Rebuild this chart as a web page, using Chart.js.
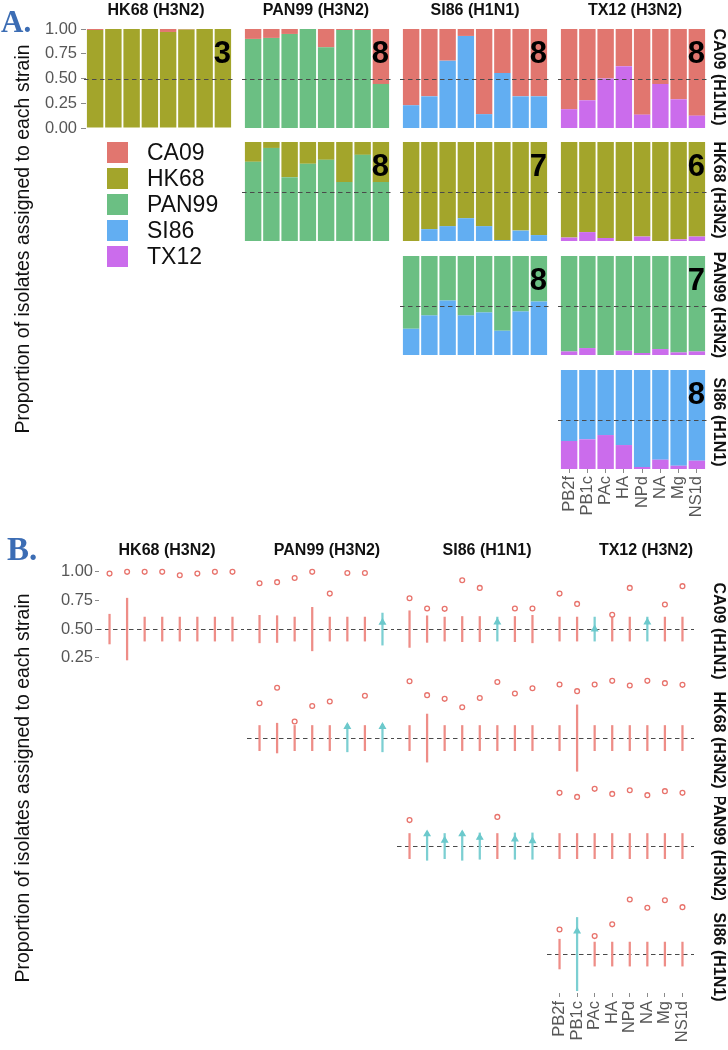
<!DOCTYPE html>
<html>
<head>
<meta charset="utf-8">
<script src="https://cdn.jsdelivr.net/npm/chart.js@4.4.1/dist/chart.umd.min.js"></script>
<style>
html,body{margin:0;padding:0;background:#fff;}
#root{position:relative;width:728px;height:1050px;overflow:hidden;background:#fff;font-family:"Liberation Sans",Arial,Helvetica,sans-serif;}
#root canvas{position:absolute;}
.txt{position:absolute;white-space:nowrap;line-height:1;}
.box{position:absolute;overflow:hidden;}
.rot{position:absolute;left:50%;top:50%;white-space:nowrap;line-height:1;}
</style>
</head>
<body>
<div id="root"></div>
<script>
// ================= DATA =================
const segments = ["PB2f","PB1c","PAc","HA","NPd","NA","Mg","NS1d"];
const legendStrains = ["CA09","HK68","PAN99","SI86","TX12"];
const columnStrains = ["HK68","PAN99","SI86","TX12"];
const columnLabels = ["HK68 (H3N2)","PAN99 (H3N2)","SI86 (H1N1)","TX12 (H3N2)"];
const rowStrains = ["CA09","HK68","PAN99","SI86"];
const rowLabels = ["CA09 (H1N1)","HK68 (H3N2)","PAN99 (H3N2)","SI86 (H1N1)"];
const yTicksA = [0, 0.25, 0.5, 0.75, 1];
const yTicksB = [0.25, 0.5, 0.75, 1];
const nullCentre = 0.5;
const axisTitle = "Proportion of isolates assigned to each strain";

// Panel A: share of isolates assigned to the column strain (lower) and to the row strain (upper)
const A_CA09_HK68_low  = [0.99,1.00,1.00,1.00,0.97,0.995,1.00,1.00];
const A_CA09_HK68_up   = [0.01,0.00,0.00,0.00,0.03,0.005,0.00,0.00];
const A_CA09_PAN99_low = [0.90,0.91,0.95,1.00,0.815,0.99,0.99,0.445];
const A_CA09_PAN99_up  = [0.10,0.09,0.05,0.00,0.185,0.01,0.01,0.555];
const A_CA09_SI86_low  = [0.23,0.32,0.68,0.93,0.14,0.555,0.32,0.32];
const A_CA09_SI86_up   = [0.77,0.68,0.32,0.07,0.86,0.445,0.68,0.68];
const A_CA09_TX12_low  = [0.19,0.28,0.50,0.625,0.135,0.445,0.29,0.125];
const A_CA09_TX12_up   = [0.81,0.72,0.50,0.375,0.865,0.555,0.71,0.875];
const A_HK68_PAN99_low = [0.80,0.94,0.645,0.78,0.82,0.595,0.87,0.595];
const A_HK68_PAN99_up  = [0.20,0.06,0.355,0.22,0.18,0.405,0.13,0.405];
const A_HK68_SI86_low  = [0.00,0.12,0.15,0.23,0.15,0.01,0.105,0.06];
const A_HK68_SI86_up   = [1.00,0.88,0.85,0.77,0.85,0.99,0.895,0.94];
const A_HK68_TX12_low  = [0.035,0.09,0.03,0.00,0.045,0.00,0.017,0.045];
const A_HK68_TX12_up   = [0.965,0.91,0.97,1.00,0.955,1.00,0.983,0.955];
const A_PAN99_SI86_low = [0.265,0.40,0.55,0.40,0.43,0.245,0.44,0.54];
const A_PAN99_SI86_up  = [0.735,0.60,0.45,0.60,0.57,0.755,0.56,0.46];
const A_PAN99_TX12_low = [0.036,0.07,0.00,0.043,0.02,0.06,0.026,0.036];
const A_PAN99_TX12_up  = [0.964,0.93,1.00,0.957,0.98,0.94,0.974,0.964];
const A_SI86_TX12_low  = [0.283,0.30,0.343,0.242,0.02,0.094,0.033,0.084];
const A_SI86_TX12_up   = [0.717,0.70,0.657,0.758,0.98,0.906,0.967,0.916];
const countsA = [[3,8,8,8],[null,8,7,6],[null,null,8,7],[null,null,null,8]];

// Panel B: observed proportion (point) and half-width of the null interval around 0.5 (bar)
const B_CA09_HK68_obs   = [0.985,1.00,1.00,1.00,0.97,0.985,1.00,1.00];
const B_CA09_HK68_half  = [0.13,0.27,0.105,0.105,0.105,0.105,0.105,0.105];
const B_CA09_PAN99_obs  = [0.90,0.91,0.947,1.00,0.81,0.99,0.99,0.558];
const B_CA09_PAN99_half = [0.12,0.117,0.105,0.19,0.105,0.105,0.105,0.14];
const B_CA09_SI86_obs   = [0.77,0.68,0.677,0.927,0.86,0.56,0.68,0.68];
const B_CA09_SI86_half  = [0.16,0.116,0.105,0.11,0.11,0.105,0.11,0.12];
const B_CA09_TX12_obs   = [0.81,0.72,0.50,0.625,0.86,0.56,0.715,0.875];
const B_CA09_TX12_half  = [0.105,0.105,0.105,0.105,0.105,0.105,0.105,0.105];
const B_HK68_PAN99_obs  = [0.805,0.94,0.645,0.78,0.82,0.60,0.87,0.60];
const B_HK68_PAN99_half = [0.11,0.13,0.11,0.11,0.11,0.12,0.11,0.12];
const B_HK68_SI86_obs   = [0.997,0.875,0.843,0.77,0.85,0.99,0.89,0.935];
const B_HK68_SI86_half  = [0.11,0.21,0.11,0.11,0.11,0.11,0.11,0.11];
const B_HK68_TX12_obs   = [0.968,0.91,0.968,1.00,0.96,1.00,0.98,0.965];
const B_HK68_TX12_half  = [0.11,0.29,0.11,0.11,0.11,0.11,0.11,0.11];
const B_PAN99_SI86_obs  = [0.727,0.605,0.55,0.605,0.575,0.755,0.56,0.545];
const B_PAN99_SI86_half = [0.11,0.124,0.11,0.124,0.115,0.11,0.115,0.115];
const B_PAN99_TX12_obs  = [0.965,0.93,1.00,0.956,0.988,0.945,0.98,0.965];
const B_PAN99_TX12_half = [0.11,0.11,0.11,0.11,0.11,0.11,0.11,0.11];
const B_SI86_TX12_obs   = [0.715,0.70,0.657,0.76,0.977,0.905,0.97,0.91];
const B_SI86_TX12_half  = [0.13,0.32,0.105,0.105,0.105,0.105,0.105,0.105];

// ================= STYLE / LAYOUT =================
const FAMILY = '"Liberation Sans", Arial, Helvetica, sans-serif';
const strainColor = {CA09:'#E1766F', HK68:'#A3A52B', PAN99:'#6BBF83', SI86:'#62AEF2', TX12:'#CB6CEC'};
const sigBar = '#EE8D87', sigPoint = '#E8736C', nsBar = '#7CCFD2', nsPoint = '#6CC9CC';
const AX = [86,244,402,560], AW = 146, AY = [29,142,256,370], AH = 99;
const BX = [99,249,399,549], BW = 144, BY = [565,674,782,890], BH = 103;

const facetsA = [
  [0,0,A_CA09_HK68_low,A_CA09_HK68_up],[0,1,A_CA09_PAN99_low,A_CA09_PAN99_up],
  [0,2,A_CA09_SI86_low,A_CA09_SI86_up],[0,3,A_CA09_TX12_low,A_CA09_TX12_up],
  [1,1,A_HK68_PAN99_low,A_HK68_PAN99_up],[1,2,A_HK68_SI86_low,A_HK68_SI86_up],
  [1,3,A_HK68_TX12_low,A_HK68_TX12_up],[2,2,A_PAN99_SI86_low,A_PAN99_SI86_up],
  [2,3,A_PAN99_TX12_low,A_PAN99_TX12_up],[3,3,A_SI86_TX12_low,A_SI86_TX12_up]
];
const facetsB = [
  [0,0,B_CA09_HK68_obs,B_CA09_HK68_half],[0,1,B_CA09_PAN99_obs,B_CA09_PAN99_half],
  [0,2,B_CA09_SI86_obs,B_CA09_SI86_half],[0,3,B_CA09_TX12_obs,B_CA09_TX12_half],
  [1,1,B_HK68_PAN99_obs,B_HK68_PAN99_half],[1,2,B_HK68_SI86_obs,B_HK68_SI86_half],
  [1,3,B_HK68_TX12_obs,B_HK68_TX12_half],[2,2,B_PAN99_SI86_obs,B_PAN99_SI86_half],
  [2,3,B_PAN99_TX12_obs,B_PAN99_TX12_half],[3,3,B_SI86_TX12_obs,B_SI86_TX12_half]
];

const root = document.getElementById('root');
function addText(txt, css){
  const d = document.createElement('div'); d.className='txt'; d.textContent = txt;
  Object.assign(d.style, css); root.appendChild(d); return d;
}
function addRotated(txt, cx, cy, deg, css, box){
  const holder = document.createElement('div'); holder.className='box';
  const bw = box ? box.w : 40, bh = box ? box.h : 600;
  Object.assign(holder.style,{left:(cx-bw/2)+'px',top:(cy-bh/2)+'px',width:bw+'px',height:bh+'px',overflow:box?'hidden':'visible'});
  const d = document.createElement('div'); d.className='rot'; d.textContent = txt;
  Object.assign(d.style, css);
  d.style.transform = 'translate(-50%,-50%) rotate('+deg+'deg)';
  holder.appendChild(d); root.appendChild(holder);
}

// reference line at the null value, positioned through the chart's y scale
function drawNull(chart){
  const a = chart.chartArea, y = chart.scales.y.getPixelForValue(nullCentre), ctx = chart.ctx;
  ctx.save(); ctx.setLineDash([4.5,3.5]); ctx.strokeStyle='#4a4a4a'; ctx.lineWidth=1.1;
  ctx.beginPath(); ctx.moveTo(a.left - 2, Math.round(y)+0.5); ctx.lineTo(a.right + 1, Math.round(y)+0.5); ctx.stroke(); ctx.restore();
}
const nullAfter = {id:'nullAfter', afterDatasetsDraw(chart){ drawNull(chart); }};
const nullBefore = {id:'nullBefore', beforeDatasetsDraw(chart){ drawNull(chart); }};
const countLabel = {id:'countLabel', afterDatasetsDraw(chart, args, opts){
  if (opts.n == null) return;
  const ctx = chart.ctx, a = chart.chartArea;
  ctx.save(); ctx.font = 'bold 31px ' + FAMILY; ctx.fillStyle = '#000';
  ctx.textAlign = 'right'; ctx.textBaseline = 'alphabetic';
  ctx.fillText(String(opts.n), a.right - 1, chart.scales.y.getPixelForValue(0.77) + 11);
  ctx.restore();
}};

function makeCanvas(left, top, w, h, pad){
  const cv = document.createElement('canvas');
  const W = w + pad.l + pad.r, H = h + pad.t + pad.b;
  cv.width = W; cv.height = H;
  Object.assign(cv.style,{left:(left-pad.l)+'px',top:(top-pad.t)+'px',width:W+'px',height:H+'px'});
  root.appendChild(cv); return cv;
}
const tickFont = {family: FAMILY, size: 16.5};
const tickColor = '#575757';
function padFor(showY, showX){
  return {l: showY?70:(showX?24:10), t: showY?24:10, r: showX?24:10, b: showX?60:(showY?24:10)};
}

function chartA(r, c, low, up){
  const showY = r===0 && c===0, showX = r===3 && c===3;
  const pad = padFor(showY, showX);
  const cv = makeCanvas(AX[c], AY[r], AW, AH, pad);
  const xScale = {type:'category', stacked:true, display:showX, offset:true,
           grid:{display:true, offset:false, drawOnChartArea:false, drawTicks:true, tickLength:4, color:'#8a8a8a'},
           border:{display:false},
           ticks:{autoSkip:false, maxRotation:90, minRotation:90, font:tickFont, color:tickColor, padding:3}};
  if (showX) xScale.afterFit = s => { s.height = pad.b; };
  const yScale = {type:'linear', stacked:true, min:0, max:1, display:showY,
           afterBuildTicks(s){ s.ticks = yTicksA.map(v=>({value:v})); },
           grid:{display:true, drawOnChartArea:false, drawTicks:true, tickLength:5, color:'#8a8a8a'},
           border:{display:false},
           ticks:{font:tickFont, color:tickColor, padding:4, callback:v=>Number(v).toFixed(2)}};
  if (showY) yScale.afterFit = s => { s.width = pad.l; };
  new Chart(cv.getContext('2d'), {
    type:'bar',
    data:{labels:segments, datasets:[
      {label:columnStrains[c], data:low, backgroundColor:strainColor[columnStrains[c]], borderWidth:0, barPercentage:0.9, categoryPercentage:1},
      {label:rowStrains[r], data:up, backgroundColor:strainColor[rowStrains[r]], borderWidth:0, barPercentage:0.9, categoryPercentage:1}
    ]},
    options:{
      responsive:false, animation:false, devicePixelRatio:1, events:[],
      layout:{padding:{left:showY?0:pad.l, right:pad.r, top:pad.t, bottom:showX?0:pad.b}},
      plugins:{legend:{display:false}, tooltip:{enabled:false}, countLabel:{n: countsA[r][c]}},
      scales:{x:xScale, y:yScale}
    },
    plugins:[nullAfter, countLabel]
  });
}

function chartB(r, c, obs, half){
  const showY = r===0 && c===0, showX = r===3 && c===3;
  const pad = padFor(showY, showX);
  const sig = obs.map((v,i)=> v > nullCentre + half[i]);
  const cv = makeCanvas(BX[c], BY[r], BW, BH, pad);
  const xScale = {type:'linear', min:0.4, max:8.6, offset:false, display:showX,
           afterBuildTicks(s){ s.ticks = segments.map((_,i)=>({value:i+1})); },
           grid:{display:true, offset:false, drawOnChartArea:false, drawTicks:true, tickLength:4, color:'#8a8a8a'},
           border:{display:false},
           ticks:{autoSkip:false, maxRotation:90, minRotation:90, font:tickFont, color:tickColor, padding:4,
                  callback:v=> segments[Math.round(v)-1]}};
  if (showX) xScale.afterFit = s => { s.height = pad.b; };
  const yScale = {type:'linear', min:0.16, max:1.06, display:showY,
           afterBuildTicks(s){ s.ticks = yTicksB.map(v=>({value:v})); },
           grid:{display:true, drawOnChartArea:false, drawTicks:true, tickLength:4, color:'#8a8a8a'},
           border:{display:false},
           ticks:{font:tickFont, color:tickColor, padding:2, callback:v=>Number(v).toFixed(2)}};
  if (showY) yScale.afterFit = s => { s.width = pad.l; };
  new Chart(cv.getContext('2d'), {
    type:'bar',
    data:{datasets:[
      {type:'scatter', order:0, clip:false,
       data: obs.map((v,i)=>({x:i+1, y:v})),
       pointStyle: sig.map(s=> s?'circle':'triangle'),
       pointRadius: sig.map(s=> s?2.4:3.3),
       pointBorderWidth: 1.3,
       pointBorderColor: sig.map(s=> s?sigPoint:nsPoint),
       pointBackgroundColor: sig.map(s=> s?'rgba(0,0,0,0)':nsPoint)},
      {type:'bar', order:1, clip:false, grouped:false, barThickness:1.6, borderWidth:0,
       data: half.map((h,i)=>({x:i+1, y:[nullCentre-h, nullCentre+h]})),
       backgroundColor: sig.map(s=> s?sigBar:nsBar)}
    ]},
    options:{
      responsive:false, animation:false, devicePixelRatio:1, events:[],
      layout:{padding:{left:showY?0:pad.l, right:pad.r, top:pad.t, bottom:showX?0:pad.b}},
      plugins:{legend:{display:false}, tooltip:{enabled:false}},
      scales:{x:xScale, y:yScale}
    },
    plugins:[nullBefore]
  });
}

facetsA.forEach(f=>chartA(...f));
facetsB.forEach(f=>chartB(...f));

// ---- panel letters ----
addText('A.', {left:'1px', top:'6px', fontFamily:'"Liberation Serif","Times New Roman",serif', fontWeight:'bold', fontSize:'31px', color:'#3C6DB4'});
addText('B.', {left:'7px', top:'533px', fontFamily:'"Liberation Serif","Times New Roman",serif', fontWeight:'bold', fontSize:'33px', color:'#3C6DB4'});

// ---- column headers ----
const headA = [156,316,475,635], headB = [167,327,487,646];
columnLabels.forEach((t,i)=>{
  addText(t,{left:(headA[i])+'px', top:'1.5px', transform:'translateX(-50%)', fontWeight:'bold', fontSize:'16px', color:'#111'});
  addText(t,{left:(headB[i])+'px', top:'541.5px', transform:'translateX(-50%)', fontWeight:'bold', fontSize:'16px', color:'#111'});
});

// ---- row strips ----
const stripA = [77,190,305,422], stripB = [631,740,848,957];
rowLabels.forEach((t,i)=>{
  addRotated(t, 719, stripA[i], 90, {fontWeight:'bold', fontSize:'16px', color:'#111'}, {w:22, h:120});
  addRotated(t, 719, stripB[i], 90, {fontWeight:'bold', fontSize:'16px', color:'#111'}, {w:22, h:103});
});

// ---- y axis titles ----
addRotated(axisTitle, 23, 239, -90, {fontSize:'19.5px', color:'#111'});
addRotated(axisTitle, 23, 788, -90, {fontSize:'19.5px', color:'#111'});

// ---- legend (panel A) ----
legendStrains.forEach((s,i)=>{
  const sq = document.createElement('div');
  Object.assign(sq.style,{position:'absolute', left:'107px', top:(142+26*i)+'px', width:'21px', height:'21px', background:strainColor[s]});
  root.appendChild(sq);
  addText(s,{left:'147px', top:(142+26*i)+'px', lineHeight:'21px', fontSize:'23px', color:'#111'});
});
</script>
</body>
</html>
